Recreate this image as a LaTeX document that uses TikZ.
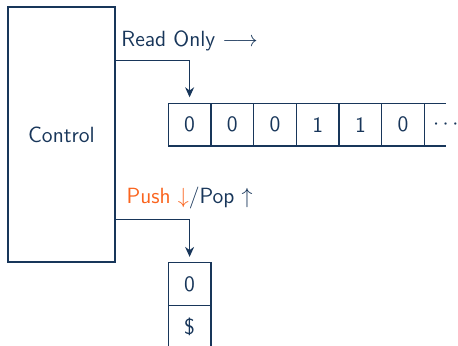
\documentclass[tikz,border=0pt]{standalone}
\usetikzlibrary{positioning,arrows.meta}

\definecolor{navy}{RGB}{24,54,90}
\definecolor{pushorange}{RGB}{250,100,30}

\tikzset{
    cell/.style={draw=navy, text=navy, minimum width=21.35pt, minimum height=21.35pt,
        inner sep=0pt, outer sep=0pt},
    link/.style={draw=navy, -{Stealth[length=5pt,width=4.5pt]}, shorten >=3pt},
}

\begin{document}
\begin{tikzpicture}[x=0.5pt, y=-0.5pt, line width=0.6pt,
        font=\sffamily\fontsize{11}{13}\selectfont]
    \clip (0,0) rectangle (458,345);

    % Control unit
    \node[draw=navy, text=navy, minimum width=53.5pt, minimum height=127.5pt,
        inner sep=0pt] (control) at (61.5,134.5) {Control};

    % Tape
    \node[cell] (t1) at (189.6,124.6) {0};
    \foreach \bit [count=\i from 2] in {0,0,1,1,0} {
        \pgfmathtruncatemacro{\prev}{\i - 1}
        \node[cell, right=0pt of t\prev] (t\i) {\bit};
    }
    \node[cell, draw=none, right=0pt of t6] (t7) {$\cdots$};
    \draw[navy] (t7.north west) -- (t7.north);
    \draw[navy] (t7.south west) -- (t7.south);

    % Stack
    \node[cell] (s1) at (189.6,284.2) {0};
    \node[cell, below=0pt of s1] (s2) {\$};

    % Heads
    \draw[link] ([yshift=-26.85pt]control.north east) -| (t1.north);
    \draw[link] ([yshift=-106.5pt]control.north east) -| (s1.north);

    % Labels
    \node[text=navy] (readlbl) at ([yshift=31.15pt]t1.north) {Read Only $\longrightarrow$};
    \node[text=navy] (pushlbl) at ([yshift=32.35pt]s1.north)
        {\textcolor{pushorange}{Push $\downarrow$}/Pop $\uparrow$};

\end{tikzpicture}
\end{document}
